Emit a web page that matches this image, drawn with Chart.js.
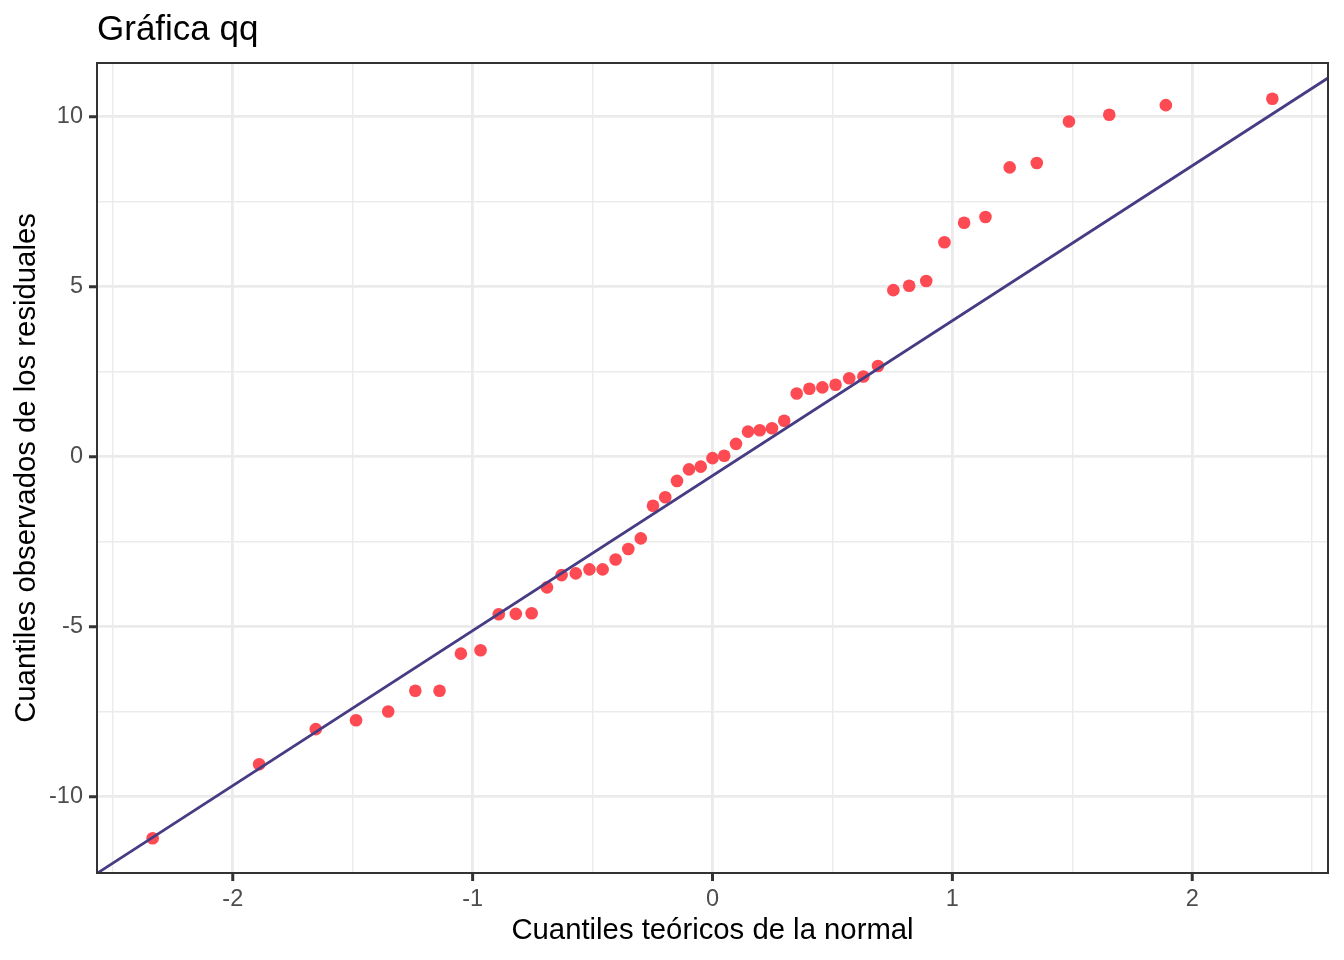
<!DOCTYPE html>
<html>
<head>
<meta charset="utf-8">
<script src="https://cdn.jsdelivr.net/npm/chart.js@4.4.0/dist/chart.umd.min.js"></script>
<style>
  html, body { margin: 0; padding: 0; background: #ffffff; }
  #wrap { width: 1344px; height: 960px; }
</style>
</head>
<body>
<div id="wrap"><canvas id="qq" width="1344" height="960"></canvas></div>
<script>
const theoretical = [
  -2.334, -1.890, -1.654, -1.486, -1.352, -1.239, -1.138, -1.049, -0.967, -0.891,
  -0.820, -0.754, -0.690, -0.629, -0.570, -0.513, -0.458, -0.404, -0.351, -0.299,
  -0.248, -0.197, -0.148, -0.098, -0.049, 0.000, 0.049, 0.098, 0.148, 0.197,
  0.248, 0.299, 0.351, 0.404, 0.458, 0.513, 0.570, 0.629, 0.690, 0.754,
  0.820, 0.891, 0.967, 1.049, 1.138, 1.239, 1.352, 1.486, 1.654, 1.890, 2.334
];
const residuals = [
  -11.22, -9.04, -8.01, -7.75, -7.49, -6.88, -6.88, -5.79, -5.69, -4.63,
  -4.62, -4.60, -3.84, -3.48, -3.43, -3.31, -3.31, -3.02, -2.71, -2.40,
  -1.44, -1.19, -0.71, -0.37, -0.29, -0.04, 0.03, 0.38, 0.74, 0.78,
  0.84, 1.06, 1.86, 2.00, 2.04, 2.12, 2.31, 2.36, 2.67, 4.90,
  5.03, 5.17, 6.31, 6.88, 7.05, 8.51, 8.64, 9.86, 10.06, 10.34, 10.53
];

// qq reference line endpoints
const lineX = [-2.566, 2.566];
const lineY = [-12.25, 11.14];

// ticks (major ones get labels)
const xTicks = [-2.5, -2, -1.5, -1, -0.5, 0, 0.5, 1, 1.5, 2, 2.5];
const yTicks = [-10, -7.5, -5, -2.5, 0, 2.5, 5, 7.5, 10];

const FONT = "'Liberation Sans', Arial, Helvetica, sans-serif";
const isMajorX = v => Number.isInteger(v);
const isMajorY = v => v % 5 === 0;

// panel border, tick marks and title like theme_bw
const panelPlugin = {
  id: "panel",
  afterDraw(chart) {
    const { ctx, chartArea: a, scales } = chart;
    ctx.save();
    ctx.strokeStyle = "#333333";
    ctx.lineWidth = 3;
    ctx.lineCap = "butt";
    ctx.beginPath();
    xTicks.filter(isMajorX).forEach(v => {
      const px = scales.x.getPixelForValue(v);
      ctx.moveTo(px, a.bottom);
      ctx.lineTo(px, a.bottom + 8);
    });
    yTicks.filter(isMajorY).forEach(v => {
      const py = scales.y.getPixelForValue(v);
      ctx.moveTo(a.left, py);
      ctx.lineTo(a.left - 8, py);
    });
    ctx.stroke();

    ctx.lineWidth = 2;
    ctx.strokeRect(a.left, a.top, a.right - a.left, a.bottom - a.top);

    ctx.fillStyle = "#000000";
    ctx.font = "35px " + FONT;
    ctx.textAlign = "left";
    ctx.textBaseline = "alphabetic";
    ctx.fillText("Gráfica qq", a.left, 40);
    ctx.restore();
  }
};

const points = theoretical.map((x, i) => ({ x: x, y: residuals[i] }));
const linePts = lineX.map((x, i) => ({ x: x, y: lineY[i] }));

new Chart(document.getElementById("qq"), {
  type: "scatter",
  data: {
    datasets: [
      {
        label: "linea",
        data: linePts,
        showLine: true,
        borderColor: "#463C84",
        borderWidth: 2.8,
        pointRadius: 0,
        order: 0
      },
      {
        label: "residuales",
        data: points,
        backgroundColor: "#FD4A53",
        borderWidth: 0,
        pointRadius: 6.3,
        pointHoverRadius: 6.3,
        order: 1
      }
    ]
  },
  options: {
    responsive: false,
    animation: false,
    layout: { padding: { left: 0, right: 16, top: 63, bottom: 0 } },
    plugins: {
      legend: { display: false },
      tooltip: { enabled: false }
    },
    scales: {
      x: {
        type: "linear",
        min: -2.566,
        max: 2.566,
        afterBuildTicks: axis => { axis.ticks = xTicks.map(v => ({ value: v })); },
        afterFit: axis => { axis.height = 87; },
        border: { display: false },
        grid: {
          color: "#EBEBEB",
          lineWidth: c => isMajorX(c.tick.value) ? 2.8 : 1.4,
          tickLength: 7,
          tickColor: "rgba(0,0,0,0)"
        },
        ticks: {
          autoSkip: false,
          maxRotation: 0,
          padding: 5,
          color: "#4D4D4D",
          font: { family: FONT, size: 23.5 },
          callback: v => isMajorX(v) ? String(v) : ""
        },
        title: {
          display: true,
          text: "Cuantiles teóricos de la normal",
          color: "#000000",
          font: { family: FONT, size: 29.3 },
          padding: { top: 0, bottom: 12 }
        }
      },
      y: {
        type: "linear",
        min: -12.24,
        max: 11.58,
        afterBuildTicks: axis => { axis.ticks = yTicks.map(v => ({ value: v })); },
        afterFit: axis => { axis.width = 97; },
        border: { display: false },
        grid: {
          color: "#EBEBEB",
          lineWidth: c => isMajorY(c.tick.value) ? 2.8 : 1.4,
          tickLength: 7,
          tickColor: "rgba(0,0,0,0)"
        },
        ticks: {
          autoSkip: false,
          padding: 7,
          color: "#4D4D4D",
          font: { family: FONT, size: 23.5 },
          callback: v => isMajorY(v) ? String(v) : ""
        },
        title: {
          display: true,
          text: "Cuantiles observados de los residuales",
          color: "#000000",
          font: { family: FONT, size: 29.3 },
          padding: { top: 9, bottom: 0 }
        }
      }
    }
  },
  plugins: [panelPlugin]
});
</script>
</body>
</html>
